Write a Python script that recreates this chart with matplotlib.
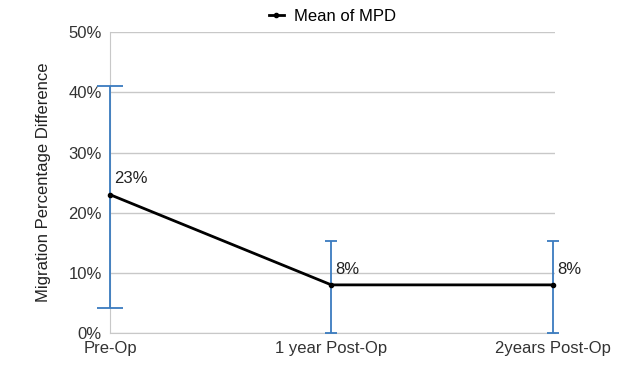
import numpy as np
import matplotlib.pyplot as plt

plt.rcParams['font.family'] = ['Liberation Sans', 'DejaVu Sans']

# MPD means and error bar ranges (percent)
stages = ['Pre-Op', '1 year Post-Op', '2years Post-Op']
mean_mpd = [23, 8, 8]
err_low = [18.8, 8, 8]
err_high = [18.0, 7.3, 7.3]
point_labels = ['23%', '8%', '8%']

fig = plt.figure(figsize=(6.32, 3.83), dpi=100)
ax = fig.add_axes([0.174, 0.1305, 0.704, 0.7855])

x = np.arange(len(stages))
# Pre-Op bar has wider caps than the others in the original
ax.errorbar(x[:1], mean_mpd[:1], yerr=[err_low[:1], err_high[:1]], fmt='none', ecolor='#3a7bbf',
            elinewidth=1.3, capsize=9.7, capthick=1.3, zorder=4, clip_on=False)
ax.errorbar(x[1:], mean_mpd[1:], yerr=[err_low[1:], err_high[1:]], fmt='none', ecolor='#3a7bbf',
            elinewidth=1.3, capsize=4.3, capthick=1.3, zorder=4, clip_on=False)
ax.plot(x, mean_mpd, color='black', lw=2, marker='o', ms=3, label='Mean of MPD', zorder=5,
        clip_on=False)

for xi, yi, t in zip(x, mean_mpd, point_labels):
    ax.annotate(t, (xi, yi), xytext=(3, 6), textcoords='offset points',
                fontsize=12, color='#222222', ha='left', va='bottom')

ax.set_xlim(0, 2.01)
ax.set_ylim(0, 50)
ax.set_yticks(np.arange(0, 51, 10))
ax.set_yticklabels([f'{v}%' for v in range(0, 51, 10)])
ax.set_xticks(x)
ax.set_xticklabels(stages)
ax.grid(axis='y', color='#c8c8c8', lw=1)
ax.set_axisbelow(True)
for s in ['top', 'right']:
    ax.spines[s].set_visible(False)
ax.spines['left'].set_color('#c8c8c8')
ax.spines['bottom'].set_color('#c8c8c8')
ax.tick_params(length=0, labelsize=12, labelcolor='#333333', pad=6)
ax.set_ylabel('Migration Percentage Difference', fontsize=12, color='#222222', labelpad=12)

ax.legend(loc='lower center', bbox_to_anchor=(0.5, 1.0), frameon=False, fontsize=12,
          handlelength=0.9, handletextpad=0.6, borderaxespad=0.1)

fig.savefig('out.png', dpi=100)
